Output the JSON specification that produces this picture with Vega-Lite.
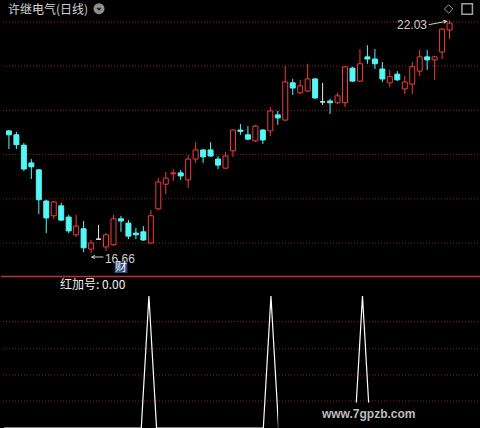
{
  "$schema": "https://vega.github.io/schema/vega-lite/v6.json",
  "background": "#000000",
  "padding": 0,
  "spacing": 0,
  "config": {"view": {"stroke": null}},
  "datasets": {
    "kline": [
      {"i":1,"open":19.48,"high":19.50,"low":19.06,"close":19.39,"signal":0},
      {"i":2,"open":19.39,"high":19.46,"low":19.06,"close":19.16,"signal":0},
      {"i":3,"open":19.15,"high":19.20,"low":18.55,"close":18.60,"signal":0},
      {"i":4,"open":18.74,"high":18.83,"low":18.37,"close":18.65,"signal":0},
      {"i":5,"open":18.58,"high":18.60,"low":17.56,"close":17.89,"signal":0},
      {"i":6,"open":17.86,"high":17.89,"low":17.12,"close":17.47,"signal":0},
      {"i":7,"open":17.52,"high":17.86,"low":17.45,"close":17.84,"signal":0},
      {"i":8,"open":17.75,"high":17.82,"low":17.40,"close":17.42,"signal":0},
      {"i":9,"open":17.49,"high":17.54,"low":17.12,"close":17.17,"signal":0},
      {"i":10,"open":17.08,"high":17.54,"low":17.03,"close":17.28,"signal":0},
      {"i":11,"open":17.22,"high":17.40,"low":16.68,"close":16.78,"signal":0},
      {"i":12,"open":16.75,"high":16.96,"low":16.66,"close":16.89,"signal":0},
      {"i":13,"open":16.98,"high":17.31,"low":16.96,"close":16.98,"signal":0},
      {"i":14,"open":16.80,"high":17.12,"low":16.71,"close":17.08,"signal":0},
      {"i":15,"open":16.85,"high":17.54,"low":16.82,"close":17.45,"signal":0},
      {"i":16,"open":17.45,"high":17.52,"low":17.15,"close":17.40,"signal":0},
      {"i":17,"open":17.35,"high":17.42,"low":16.98,"close":17.05,"signal":0},
      {"i":18,"open":17.12,"high":17.24,"low":16.98,"close":17.08,"signal":0},
      {"i":19,"open":17.15,"high":17.28,"low":16.94,"close":16.96,"signal":0},
      {"i":20,"open":16.89,"high":17.65,"low":16.87,"close":17.52,"signal":1},
      {"i":21,"open":17.68,"high":18.39,"low":17.65,"close":18.30,"signal":0},
      {"i":22,"open":18.25,"high":18.53,"low":18.02,"close":18.39,"signal":0},
      {"i":23,"open":18.49,"high":18.60,"low":18.32,"close":18.51,"signal":0},
      {"i":24,"open":18.51,"high":18.58,"low":18.35,"close":18.44,"signal":0},
      {"i":25,"open":18.35,"high":18.92,"low":18.16,"close":18.83,"signal":0},
      {"i":26,"open":18.83,"high":19.22,"low":18.74,"close":19.04,"signal":0},
      {"i":27,"open":19.04,"high":19.06,"low":18.74,"close":18.88,"signal":0},
      {"i":28,"open":19.04,"high":19.22,"low":18.88,"close":18.90,"signal":0},
      {"i":29,"open":18.83,"high":18.90,"low":18.60,"close":18.69,"signal":0},
      {"i":30,"open":18.62,"high":18.99,"low":18.60,"close":18.90,"signal":0},
      {"i":31,"open":19.02,"high":19.52,"low":18.88,"close":19.50,"signal":0},
      {"i":32,"open":19.50,"high":19.64,"low":19.39,"close":19.47,"signal":0},
      {"i":33,"open":19.39,"high":19.59,"low":19.27,"close":19.29,"signal":0},
      {"i":34,"open":19.25,"high":19.62,"low":19.22,"close":19.59,"signal":0},
      {"i":35,"open":19.50,"high":19.52,"low":19.18,"close":19.27,"signal":0},
      {"i":36,"open":19.48,"high":20.03,"low":19.36,"close":19.94,"signal":1},
      {"i":37,"open":19.85,"high":19.94,"low":19.62,"close":19.78,"signal":0},
      {"i":38,"open":19.73,"high":20.98,"low":19.71,"close":20.61,"signal":0},
      {"i":39,"open":20.59,"high":20.68,"low":20.31,"close":20.47,"signal":0},
      {"i":40,"open":20.36,"high":20.66,"low":20.33,"close":20.52,"signal":0},
      {"i":41,"open":20.40,"high":21.03,"low":20.38,"close":20.68,"signal":0},
      {"i":42,"open":20.68,"high":20.70,"low":20.22,"close":20.24,"signal":0},
      {"i":43,"open":20.15,"high":20.59,"low":20.08,"close":20.15,"signal":0},
      {"i":44,"open":20.17,"high":20.22,"low":19.87,"close":20.13,"signal":0},
      {"i":45,"open":20.13,"high":20.36,"low":20.10,"close":20.29,"signal":0},
      {"i":46,"open":20.13,"high":20.98,"low":20.03,"close":20.96,"signal":0},
      {"i":47,"open":20.93,"high":20.96,"low":20.61,"close":20.63,"signal":0},
      {"i":48,"open":20.63,"high":21.37,"low":20.61,"close":21.03,"signal":1},
      {"i":49,"open":21.19,"high":21.46,"low":21.03,"close":21.14,"signal":0},
      {"i":50,"open":21.14,"high":21.37,"low":20.91,"close":21.03,"signal":0},
      {"i":51,"open":20.91,"high":21.07,"low":20.61,"close":20.68,"signal":0},
      {"i":52,"open":20.59,"high":20.89,"low":20.49,"close":20.73,"signal":0},
      {"i":53,"open":20.79,"high":20.86,"low":20.63,"close":20.66,"signal":0},
      {"i":54,"open":20.45,"high":20.75,"low":20.33,"close":20.61,"signal":0},
      {"i":55,"open":20.56,"high":21.07,"low":20.33,"close":20.96,"signal":0},
      {"i":56,"open":20.86,"high":21.35,"low":20.75,"close":21.19,"signal":0},
      {"i":57,"open":21.19,"high":21.35,"low":20.89,"close":21.12,"signal":0},
      {"i":58,"open":21.12,"high":21.21,"low":20.66,"close":21.19,"signal":0},
      {"i":59,"open":21.30,"high":21.85,"low":21.14,"close":21.83,"signal":0},
      {"i":60,"open":21.81,"high":22.03,"low":21.60,"close":21.97,"signal":0}
    ],
    "priceGrid": [{"p":21.995},{"p":20.975},{"p":19.954},{"p":18.933},{"p":17.912},{"p":16.891}],
    "signalGrid": [{"v":0.205},{"v":0.402},{"v":0.6},{"v":0.806}]
  },
  "vconcat": [
    {
      "width": 480,
      "height": 273,
      "layer": [
        {
          "data": {"name": "priceGrid"},
          "mark": {"type": "rule", "color": "#8c1f1f", "strokeWidth": 1, "strokeDash": [1, 2]},
          "encoding": {
            "y": {"field": "p", "type": "quantitative", "scale": {"domain": [16.152, 22.457], "nice": false, "zero": false}, "axis": null}
          }
        },
        {
          "data": {"name": "kline"},
          "mark": {"type": "rule", "strokeWidth": 1},
          "encoding": {
            "x": {"field": "i", "type": "quantitative", "scale": {"domain": [0.607, 63.54], "nice": false, "zero": false}, "axis": null},
            "y": {"field": "low", "type": "quantitative", "scale": {"domain": [16.152, 22.457], "nice": false, "zero": false}, "axis": null},
            "y2": {"field": "high"},
            "stroke": {
              "condition": [
                {"test": "datum.close > datum.open", "value": "#f03c3c"},
                {"test": "datum.close < datum.open", "value": "#54f6f6"}
              ],
              "value": "#e8e8e8"
            }
          }
        },
        {
          "data": {"name": "kline"},
          "mark": {"type": "bar", "size": 5, "strokeWidth": 1},
          "encoding": {
            "x": {"field": "i", "type": "quantitative", "scale": {"domain": [0.607, 63.54], "nice": false, "zero": false}, "axis": null},
            "y": {"field": "open", "type": "quantitative", "scale": {"domain": [16.152, 22.457], "nice": false, "zero": false}, "axis": null},
            "y2": {"field": "close"},
            "fill": {
              "condition": [
                {"test": "datum.close > datum.open", "value": "#000000"},
                {"test": "datum.close < datum.open", "value": "#54f6f6"}
              ],
              "value": "#e8e8e8"
            },
            "stroke": {
              "condition": [
                {"test": "datum.close > datum.open", "value": "#f03c3c"},
                {"test": "datum.close < datum.open", "value": "#54f6f6"}
              ],
              "value": "#e8e8e8"
            }
          }
        },
        {
          "data": {"values": [{}]},
          "layer": [
            {
              "mark": {"type": "text", "text": "许继电气(日线)", "align": "left", "baseline": "middle", "font": "Noto Sans CJK SC", "fontSize": 12, "color": "#d4d4d4"},
              "encoding": {
                "x": {"datum": 0.869, "type": "quantitative", "scale": {"domain": [0.607, 63.54], "nice": false, "zero": false}},
                "y": {"datum": 22.272, "type": "quantitative", "scale": {"domain": [16.152, 22.457], "nice": false, "zero": false}}
              }
            },
            {
              "mark": {"type": "point", "shape": "circle", "filled": true, "size": 121, "color": "#8e8e8e", "opacity": 1},
              "encoding": {
                "x": {"datum": 13.06, "type": "quantitative"},
                "y": {"datum": 22.302, "type": "quantitative"}
              }
            },
            {
              "mark": {"type": "point", "shape": "M-0.55,-0.25L0,0.3L0.55,-0.25", "filled": false, "size": 40, "stroke": "#262626", "strokeWidth": 1.6, "opacity": 1},
              "encoding": {
                "x": {"datum": 13.06, "type": "quantitative"},
                "y": {"datum": 22.302, "type": "quantitative"}
              }
            },
            {
              "mark": {"type": "point", "shape": "diamond", "filled": false, "size": 70, "stroke": "#9a9a9a", "strokeWidth": 1, "opacity": 1},
              "encoding": {
                "x": {"datum": 59.87, "type": "quantitative"},
                "y": {"datum": 22.296, "type": "quantitative"}
              }
            },
            {
              "mark": {"type": "point", "shape": "square", "filled": false, "size": 110, "stroke": "#a0a0a0", "strokeWidth": 1.5, "opacity": 1},
              "encoding": {
                "x": {"datum": 62.36, "type": "quantitative"},
                "y": {"datum": 22.296, "type": "quantitative"}
              }
            },
            {
              "mark": {"type": "text", "text": "22.03", "align": "right", "baseline": "middle", "font": "Liberation Sans", "fontSize": 12, "color": "#cfcfcf"},
              "encoding": {
                "x": {"datum": 56.98, "type": "quantitative"},
                "y": {"datum": 21.926, "type": "quantitative"}
              }
            },
            {
              "mark": {"type": "rule", "color": "#cfcfcf", "strokeWidth": 1},
              "encoding": {
                "x": {"datum": 57.21, "type": "quantitative"},
                "x2": {"datum": 59.61},
                "y": {"datum": 21.933, "type": "quantitative"},
                "y2": {"datum": 22.011}
              }
            },
            {
              "mark": {"type": "point", "shape": "M-1,-0.5L0,0L-1,0.5", "filled": false, "size": 40, "stroke": "#cfcfcf", "strokeWidth": 1, "angle": 349.5, "opacity": 1},
              "encoding": {
                "x": {"datum": 59.61, "type": "quantitative"},
                "y": {"datum": 22.011, "type": "quantitative"}
              }
            },
            {
              "mark": {"type": "rule", "color": "#cfcfcf", "strokeWidth": 1},
              "encoding": {
                "x": {"datum": 12.08, "type": "quantitative"},
                "x2": {"datum": 13.65},
                "y": {"datum": 16.568, "type": "quantitative"}
              }
            },
            {
              "mark": {"type": "point", "shape": "M1,-0.5L0,0L1,0.5", "filled": false, "size": 40, "stroke": "#cfcfcf", "strokeWidth": 1, "opacity": 1},
              "encoding": {
                "x": {"datum": 12.08, "type": "quantitative"},
                "y": {"datum": 16.568, "type": "quantitative"}
              }
            },
            {
              "mark": {"type": "text", "text": "16.66", "align": "left", "baseline": "middle", "font": "Liberation Sans", "fontSize": 12, "color": "#cfcfcf"},
              "encoding": {
                "x": {"datum": 13.85, "type": "quantitative"},
                "y": {"datum": 16.522, "type": "quantitative"}
              }
            },
            {
              "mark": {"type": "rect", "color": "#2c4c80", "opacity": 1},
              "encoding": {
                "x": {"datum": 15.16, "type": "quantitative"},
                "x2": {"datum": 16.86},
                "y": {"datum": 16.4755, "type": "quantitative"},
                "y2": {"datum": 16.198}
              }
            },
            {
              "mark": {"type": "text", "text": "财", "align": "center", "baseline": "middle", "font": "Noto Sans CJK SC", "fontSize": 12, "color": "#f2f2f2"},
              "encoding": {
                "x": {"datum": 16.01, "type": "quantitative"},
                "y": {"datum": 16.337, "type": "quantitative"}
              }
            }
          ]
        }
      ]
    },
    {
      "width": 480,
      "height": 155,
      "layer": [
        {
          "data": {"name": "signalGrid"},
          "mark": {"type": "rule", "color": "#8c1f1f", "strokeWidth": 1, "strokeDash": [1, 2]},
          "encoding": {
            "y": {"field": "v", "type": "quantitative", "scale": {"domain": [-0.0227, 1.1515], "nice": false, "zero": false}, "axis": null}
          }
        },
        {
          "data": {"values": [{}]},
          "mark": {"type": "rule", "color": "#c03030", "strokeWidth": 1.5},
          "encoding": {
            "y": {"datum": 1.1477, "type": "quantitative", "scale": {"domain": [-0.0227, 1.1515], "nice": false, "zero": false}, "axis": null}
          }
        },
        {
          "data": {"name": "kline"},
          "mark": {"type": "line", "color": "#ffffff", "strokeWidth": 1.2},
          "encoding": {
            "x": {"field": "i", "type": "quantitative", "scale": {"domain": [0.607, 63.54], "nice": false, "zero": false}, "axis": null},
            "y": {"field": "signal", "type": "quantitative", "scale": {"domain": [-0.0227, 1.1515], "nice": false, "zero": false}, "axis": null}
          }
        },
        {
          "data": {"values": [{}]},
          "layer": [
            {
              "mark": {"type": "rect", "color": "#000000", "opacity": 1, "clip": true},
              "encoding": {
                "x": {"datum": 36.95, "type": "quantitative", "scale": {"domain": [0.607, 63.54], "nice": false, "zero": false}},
                "x2": {"datum": 63.54},
                "y": {"datum": -0.0227, "type": "quantitative", "scale": {"domain": [-0.0227, 1.1515], "nice": false, "zero": false}},
                "y2": {"datum": 0.193}
              }
            },
            {
              "mark": {"type": "text", "text": "www.7gpzb.com", "align": "center", "baseline": "middle", "font": "Liberation Sans", "fontSize": 12, "fontWeight": "bold", "color": "#bdbdbd"},
              "encoding": {
                "x": {"datum": 48.82, "type": "quantitative"},
                "y": {"datum": 0.1023, "type": "quantitative"}
              }
            },
            {
              "mark": {"type": "text", "text": "红加号: 0.00", "align": "left", "baseline": "middle", "font": "Noto Sans CJK SC", "fontSize": 12, "color": "#f0f0f0"},
              "encoding": {
                "x": {"datum": 8.342, "type": "quantitative"},
                "y": {"datum": 1.0833, "type": "quantitative"}
              }
            }
          ]
        }
      ]
    }
  ]
}
